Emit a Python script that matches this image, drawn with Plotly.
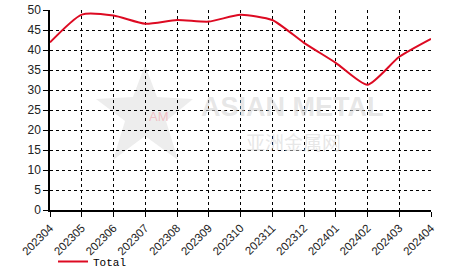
import plotly.graph_objects as go

months = ["202304", "202305", "202306", "202307", "202308", "202309", "202310",
          "202311", "202312", "202401", "202402", "202403", "202404"]
total = [41.9, 48.85, 48.6, 46.55, 47.5, 47.1, 48.8, 47.5, 41.8, 36.8, 31.3, 38.3, 42.8]
y_ticks = [0, 5, 10, 15, 20, 25, 30, 35, 40, 45, 50]

W, H = 466, 272
L, R, T, B = 50, 35, 10, 62
pw, ph = W - L - R, H - T - B

def px2paper(x, y):
    return (x - L) / pw, 1 - (y - T) / ph

fig = go.Figure()
fig.add_trace(go.Scatter(
    x=months, y=total, mode="lines", name="Total",
    line=dict(color="#dd0a22", width=2, shape="spline", smoothing=0.6),
))

# watermark
pts = [(145, 65), (157, 97), (193, 99), (166, 121), (178, 160), (145, 136),
       (113, 160), (125, 121), (96, 99), (133, 97)]
path = "M " + " L ".join(f"{px2paper(a,b)[0]:.4f} {px2paper(a,b)[1]:.4f}" for a, b in pts) + " Z"
fig.add_shape(type="path", path=path, xref="paper", yref="paper",
              fillcolor="rgba(210,210,210,0.4)", line=dict(width=0), layer="below")
ax, ay = px2paper(147, 116)
fig.add_annotation(x=ax, y=ay, xref="paper", yref="paper", text="AM", showarrow=False,
                   font=dict(family="Liberation Sans", size=13, color="rgba(240,150,160,0.55)"))
ax, ay = px2paper(292, 107)
fig.add_annotation(x=ax, y=ay, xref="paper", yref="paper", text="<b>ASIAN METAL</b>", showarrow=False,
                   font=dict(family="Liberation Sans", size=27, color="rgba(210,210,210,0.55)"))
ax, ay = px2paper(293, 141)
fig.add_annotation(x=ax, y=ay, xref="paper", yref="paper", text="亚洲金属网", showarrow=False,
                   font=dict(family="Noto Sans CJK SC", size=19, color="rgba(210,210,210,0.55)"))

fig.update_layout(
    width=W, height=H,
    margin=dict(l=L, r=R, t=T, b=B),
    paper_bgcolor="white", plot_bgcolor="white",
    showlegend=True,
    legend=dict(orientation="h", xref="container", yref="container",
                x=53 / W, xanchor="left", y=1 - 247 / H, yanchor="top",
                font=dict(family="Liberation Mono", size=11, color="#000000"),
                bgcolor="rgba(0,0,0,0)", borderwidth=0),
    xaxis=dict(
        type="category", range=[0, len(months) - 1], automargin=False,
        showline=True, linecolor="black", linewidth=1.5,
        ticks="outside", ticklen=5, tickcolor="black",
        tickangle=-45, tickfont=dict(family="Liberation Sans", size=11.5, color="#222222"),
        showgrid=True, gridcolor="black", griddash="dot", gridwidth=1,
        zeroline=False,
    ),
    yaxis=dict(
        range=[0, 50], tickvals=y_ticks, automargin=False,
        showline=True, linecolor="black", linewidth=1.5,
        ticks="outside", ticklen=5, tickcolor="black",
        tickfont=dict(family="Liberation Sans", size=12, color="#222222"),
        showgrid=True, gridcolor="black", griddash="dot", gridwidth=1,
        zeroline=False,
    ),
)

fig.write_html("out.html")
